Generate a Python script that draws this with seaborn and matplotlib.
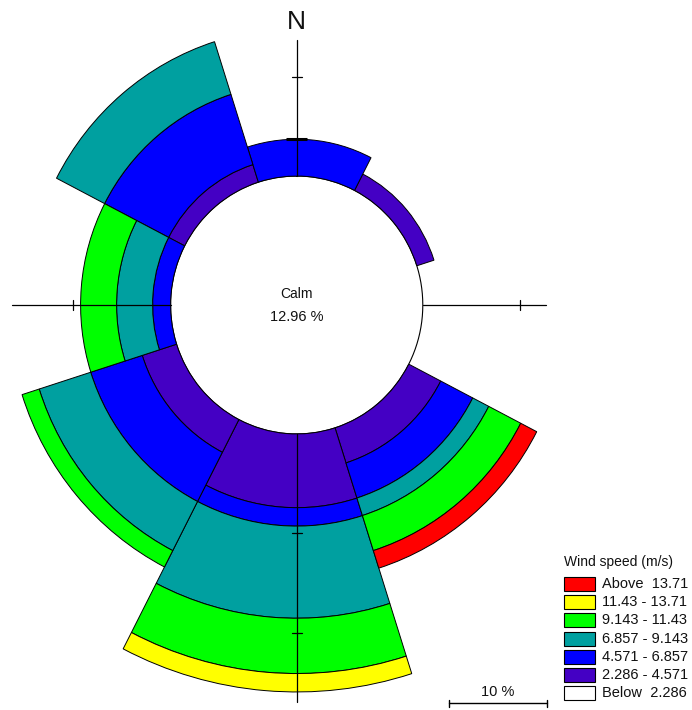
import numpy as np
import matplotlib
matplotlib.use("Agg")
import matplotlib.pyplot as plt
import seaborn as sns
from matplotlib.patches import Rectangle
from matplotlib.lines import Line2D

# ---------------- data ----------------
directions = ["N", "NE", "E", "SE", "S", "SW", "W", "NW"]
direction_deg = [0, 45, 90, 135, 180, 225, 270, 315]
calm_pct = 12.96

ws_2286_4571 = [0.00, 1.85, 0.00, 3.70, 7.41, 3.70, 0.00, 1.85]
ws_4571_6857 = [3.70, 0.00, 0.00, 3.70, 1.85, 5.56, 1.85, 7.41]
ws_6857_9143 = [0.00, 0.00, 0.00, 1.85, 9.26, 5.56, 3.70, 5.56]
ws_9143_1143 = [0.00, 0.00, 0.00, 3.70, 5.56, 1.85, 3.70, 0.00]
ws_1143_1371 = [0.00, 0.00, 0.00, 0.00, 1.85, 0.00, 0.00, 0.00]
ws_above_1371 = [0.00, 0.00, 0.00, 1.85, 0.00, 0.00, 0.00, 0.00]

speed_classes = [ws_2286_4571, ws_4571_6857, ws_6857_9143,
                 ws_9143_1143, ws_1143_1371, ws_above_1371]
class_colors = ["#4400C4", "#0000FF", "#00A0A0", "#00FF00", "#FFFF00", "#FF0000"]

legend_title = "Wind speed (m/s)"
legend_labels = ["Above  13.71", "11.43 - 13.71", "9.143 - 11.43", "6.857 - 9.143",
                 "4.571 - 6.857", "2.286 - 4.571", "Below  2.286"]
legend_colors = ["#FF0000", "#FFFF00", "#00FF00", "#00A0A0", "#0000FF", "#4400C4", "#FFFFFF"]

scale_pct = 10
tick_steps = [10, 20]

# ---------------- style / layout ----------------
sns.set_theme(style="white")
plt.rcParams['font.family'] = ['Liberation Sans', 'DejaVu Sans']

W, H = 692, 710
cx, cy = 296.7, 305.0          # centre in pixels (from top-left)
sx, sy = 9.73, 9.95            # pixels per percent (x, y)
R = 42.0
rect = [(cx - R * sx) / W, (H - cy - R * sy) / H, 2 * R * sx / W, 2 * R * sy / H]

fig = plt.figure(figsize=(W / 100, H / 100), dpi=100)
fig.patch.set_facecolor("white")

ax = fig.add_axes(rect, projection="polar")
ax.set_aspect("auto")
ax.set_theta_zero_location("N")
ax.set_theta_direction(-1)
ax.set_axis_off()

theta_rot = 4.8
sector_w = np.deg2rad(45)
theta = np.deg2rad(np.array(direction_deg) + theta_rot)

# calm circle
tt = np.linspace(0, 2 * np.pi, 721)
ax.plot(tt, np.full_like(tt, calm_pct), color="black", lw=0.8, zorder=1)

bottom = np.full(len(directions), calm_pct)
for vals, col in zip(speed_classes, class_colors):
    v = np.array(vals)
    m = v > 0
    ax.bar(theta[m], v[m], width=sector_w, bottom=bottom[m], color=col,
           edgecolor="black", linewidth=0.7, align="center", zorder=2)
    bottom = bottom + v
ax.set_ylim(0, R)

# overlay for crosshair and labels
ov = fig.add_axes(rect)
ov.set_xlim(-R, R)
ov.set_ylim(-R, R)
ov.axis("off")
ov.patch.set_alpha(0)

axis_len = {(0, 1): 26.6, (1, 0): 25.6, (0, -1): 39.9, (-1, 0): 29.3}
for (ux, uy), L in axis_len.items():
    ov.plot([ux * calm_pct, ux * L], [uy * calm_pct, uy * L], color="black", lw=0.9, zorder=5)
    for st in tick_steps:
        r = calm_pct + st
        if r < L:
            px, py = -uy, ux
            ov.plot([ux * r + px * 0.5, ux * r - px * 0.5],
                    [uy * r + py * 0.5, uy * r - py * 0.5], color="black", lw=0.9, zorder=5)

# small thick mark where the north line meets the north sector
n_top = bottom[0]
ov.plot([-1.1, 1.1], [n_top, n_top], color="black", lw=2.2, zorder=5, solid_capstyle="butt")

ov.text(0, 28.4, "N", ha="center", va="center", fontsize=19, color="#111111")
ov.text(0, 1.1, "Calm", ha="center", va="center", fontsize=10, color="#111111")
ov.text(0, -1.25, f"{calm_pct:.2f} %", ha="center", va="center", fontsize=10.5, color="#111111")

# scale bar
x0 = 449.3
x1 = x0 + scale_pct * sx
yb = H - 703
fig.add_artist(Line2D([x0 / W, x1 / W], [yb / H, yb / H], color="black", lw=1.0))
for xx in (x0, x1):
    fig.add_artist(Line2D([xx / W, xx / W], [(yb - 3.5) / H, (yb + 3.5) / H], color="black", lw=1.0))
fig.text((x0 + x1) / 2 / W, (H - 692) / H, f"{scale_pct} %", ha="center", va="center",
         fontsize=10.5, color="#111111")

# legend
lx, bw, bh = 564, 31, 14
row0, pitch = 584.2, 18.12
fig.text(lx / W, (H - 562) / H, legend_title, ha="left", va="center", fontsize=10, color="#111111")
for i, (lab, col) in enumerate(zip(legend_labels, legend_colors)):
    yc = row0 + i * pitch
    fig.add_artist(Rectangle((lx / W, (H - yc - bh / 2) / H), bw / W, bh / H,
                             facecolor=col, edgecolor="black", lw=0.8,
                             transform=fig.transFigure))
    fig.text(602 / W, (H - yc) / H, lab, ha="left", va="center", fontsize=10.5, color="#111111")

fig.savefig("out.png", dpi=100)
